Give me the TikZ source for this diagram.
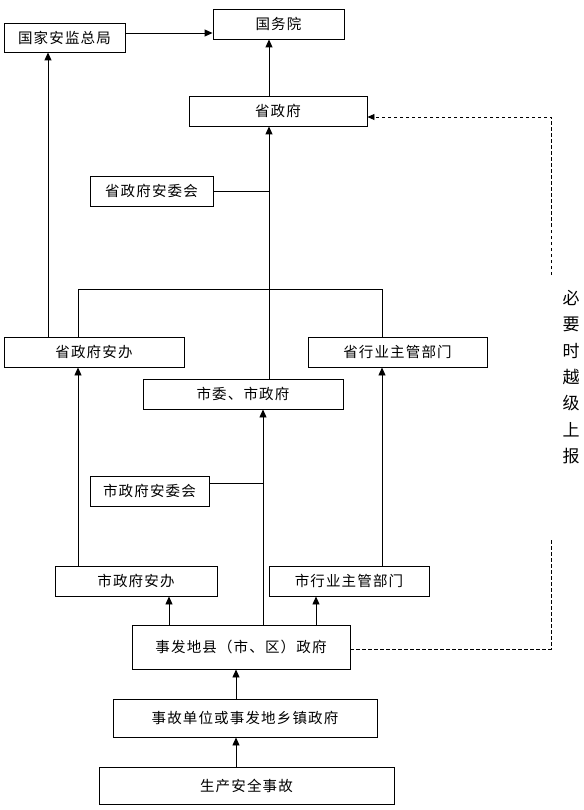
\documentclass[tikz,border=0pt]{standalone}
\usepackage{fontspec}
\setmainfont{Noto Sans CJK SC}[LetterSpace=8]
\newfontfamily\vfont{Noto Sans CJK SC}
\usetikzlibrary{arrows.meta}
\begin{document}
\begin{tikzpicture}[x=1pt,y=-1pt,
  box/.style={draw,line width=0.9pt,inner sep=0pt,font=\fontsize{14.5}{17}\selectfont},
  arr/.style={line width=0.9pt,-{Triangle[length=8pt,width=7pt]}},
  ln/.style={line width=0.9pt},
  dsh/.style={line width=0.8pt,dash pattern=on 3.5pt off 2.5pt}]
\useasboundingbox (0,0) rectangle (583,810);
\node[box,minimum width=121pt,minimum height=29pt] (gj) at (64.5,37.5) {国家安监总局};
\node[box,minimum width=131pt,minimum height=30pt] (gwy) at (278.5,24) {国务院};
\node[box,minimum width=178pt,minimum height=30pt] (sz) at (278,111) {省政府};
\node[box,minimum width=123pt,minimum height=30pt] (szawh) at (151.5,191) {省政府安委会};
\node[box,minimum width=180pt,minimum height=30pt] (szab) at (94,352) {省政府安办};
\node[box,minimum width=179pt,minimum height=30pt] (shy) at (397.5,352) {省行业主管部门};
\node[box,minimum width=200pt,minimum height=30pt] (swsz) at (243,394) {市委、市政府};
\node[box,minimum width=119pt,minimum height=30pt] (szfawh) at (149.5,491) {市政府安委会};
\node[box,minimum width=162pt,minimum height=30pt] (szfab) at (136,581) {市政府安办};
\node[box,minimum width=160pt,minimum height=30pt] (shy2) at (349,581) {市行业主管部门};
\node[box,minimum width=218pt,minimum height=44pt] (xian) at (241,647) {事发地县（市、区）政府};
\node[box,minimum width=264pt,minimum height=38pt] (xiang) at (245,718) {事故单位或事发地乡镇政府};
\node[box,minimum width=295pt,minimum height=37pt] (sg) at (246.5,785.5) {生产安全事故};
\node[align=center,inner sep=0pt,font=\vfont\fontsize{17}{26.3}\selectfont] (note) at (571,377) {必\\要\\时\\越\\级\\上\\报};
\coordinate (dA) at (551,649);
\coordinate (dB) at (551,540);
\coordinate (dC) at (551,275);
\coordinate (dD) at (551,117);
% top
\draw[arr] (gj.east |- 0,33) -- (gwy.west |- 0,33);
\draw[arr] (sz.north -| 269,0) -- (gwy.south -| 269,0);
\draw[arr] (szab.north -| 48,0) -- (gj.south -| 48,0);
\draw[arr] (swsz.north -| 269,0) -- (sz.south -| 269,0);
\draw[ln] (szawh.east) -- (269,191);
\draw[ln] (szab.north -| 78,0) -- (78,289) -- (382,289) -- (shy.north -| 382,0);
% middle
\draw[arr] (szfab.north -| 78,0) -- (szab.south -| 78,0);
\draw[arr] (shy2.north -| 382,0) -- (shy.south -| 382,0);
\draw[arr] (xian.north -| 263,0) -- (swsz.south -| 263,0);
\draw[ln] (szfawh.east |- 0,483) -- (263,483);
\draw[arr] (xian.north -| 169,0) -- (szfab.south -| 169,0);
\draw[arr] (xian.north -| 316,0) -- (shy2.south -| 316,0);
% bottom
\draw[arr] (xiang.north -| 236,0) -- (xian.south -| 236,0);
\draw[arr] (sg.north -| 236,0) -- (xiang.south -| 236,0);
% dashed
\draw[dsh] (xian.east |- dA) -- (dA) -- (dB);
\draw[dsh,-{Triangle[length=7pt,width=6pt]}] (dC) -- (dD) -- (sz.east |- dD);
\end{tikzpicture}
\end{document}
